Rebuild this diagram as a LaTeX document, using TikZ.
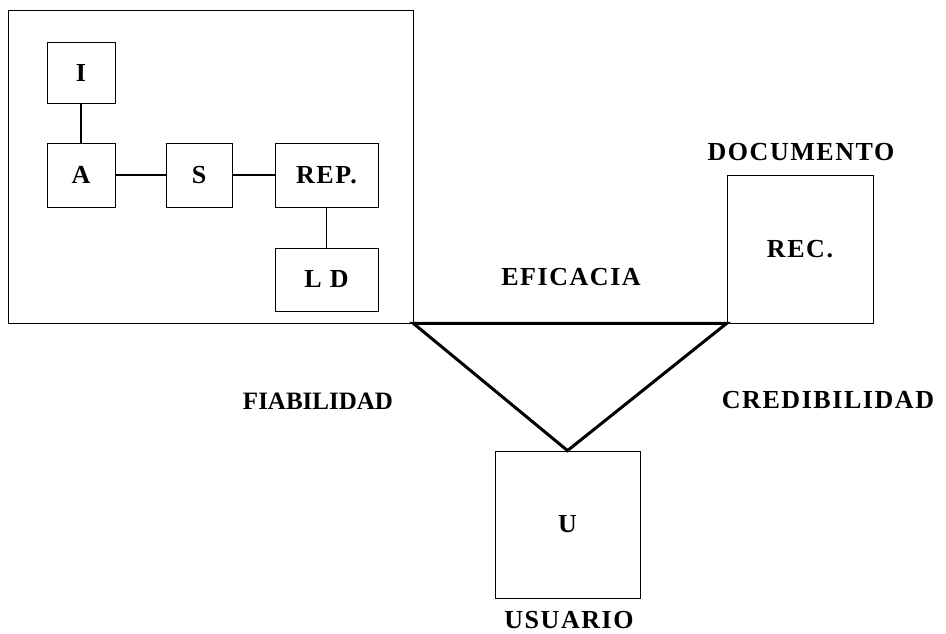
\documentclass[tikz,border=0pt]{standalone}
\usepackage{fontspec}
\setmainfont{Liberation Serif}
\begin{document}
\begin{tikzpicture}[x=1pt, y=-1pt,
  box/.style={draw, line width=0.8pt, inner sep=0pt},
  lbl/.style={font=\bfseries\fontsize{26}{30}\selectfont\addfontfeatures{LetterSpace=6}}]
\useasboundingbox (0, 0) rectangle (946, 634);
\node at (210.5, 166.5) [box, minimum width=405pt, minimum height=313pt] (frame) {};
\node at (81, 72.5) [box, lbl, minimum width=68pt, minimum height=61pt] (i) {I};
\node at (81, 175) [box, lbl, minimum width=68pt, minimum height=64pt] (a) {A};
\node at (199, 175) [box, lbl, minimum width=66pt, minimum height=64pt] (s) {S};
\node at (326.5, 175) [box, lbl, minimum width=103pt, minimum height=64pt] (rep) {REP.};
\node at (326.5, 279.5) [box, lbl, minimum width=103pt, minimum height=63pt] (ld) {L D};
\node at (800, 249) [box, lbl, minimum width=146pt, minimum height=148pt] (rec) {REC.};
\node at (567.5, 524.5) [box, lbl, minimum width=145pt, minimum height=147pt] (u) {U};
\node at (801, 152) [lbl] (doc) {DOCUMENTO};
\node at (571, 277) [lbl] (efi) {EFICACIA};
\node at (318, 401) [lbl, font=\bfseries\fontsize{25}{30}\selectfont] (fia) {FIABILIDAD};
\node at (828, 400) [lbl] (cre) {CREDIBILIDAD};
\node at (569, 620) [lbl] (usu) {USUARIO};
\draw [line width=1.8pt] (i) to (a);
\draw [line width=2.6pt] (a) to (s);
\draw [line width=1.6pt] (s) to (rep);
\draw [line width=1.8pt] (rep) to (ld);
\draw [line width=3pt, line join=miter] (frame.south east) -- (rec.south west) -- (u.north) -- cycle;
\end{tikzpicture}
\end{document}
